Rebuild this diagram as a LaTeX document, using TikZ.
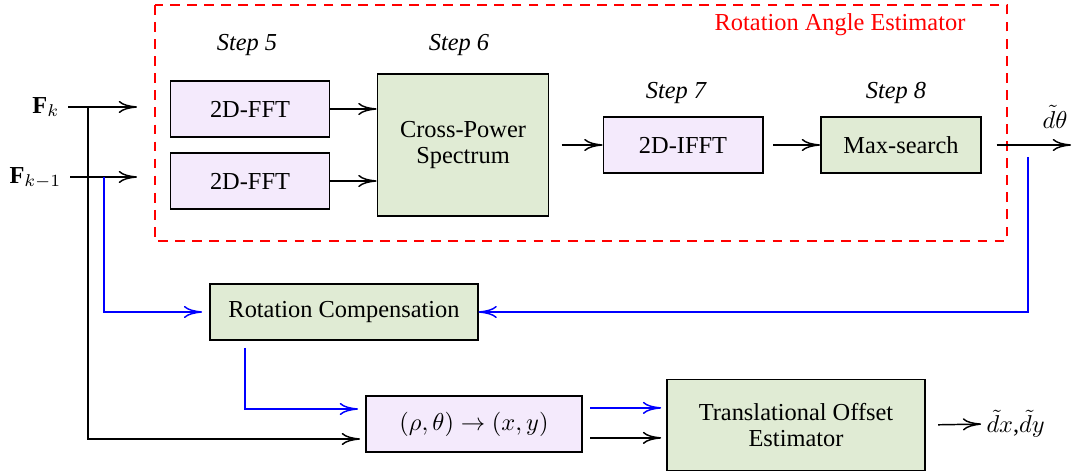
\documentclass[tikz,border=0pt]{standalone}
\usepackage{fontspec}
\setmainfont{Liberation Serif}
\usetikzlibrary{positioning,calc,arrows.meta}

\definecolor{fftcol}{HTML}{F4EAFC}
\definecolor{estcol}{HTML}{E0EBD4}

\tikzset{
    >={To[length=7.5pt, width=5pt]},
    block/.style={draw, thick, fill=fftcol, minimum width=65.2pt, minimum height=23pt, inner sep=2pt, align=center},
    estblock/.style={block, fill=estcol},
    steplabel/.style={font=\itshape},
    flow/.style={->, semithick},
    feedback/.style={->, semithick, blue},
}

\begin{document}
\begin{tikzpicture}[x=0.41pt, y=-0.41pt]

\useasboundingbox (0,0) rectangle (1072,476);

% rotation angle estimator
\draw [red, thick, dash pattern=on 4pt off 3pt] (155,5) rectangle (1007,241);
\node [red] (rae) at (840,25) {Rotation Angle Estimator};

\node [steplabel] (s5) at (247,45) {Step 5};
\node [steplabel] (s6) at (459,45) {Step 6};
\node [steplabel] (s7) at (676,93) {Step 7};
\node [steplabel] (s8) at (896,93) {Step 8};

\node [block] (fft1) at (250,109) {2D-FFT};
\node [block] (fft2) at (250,181) {2D-FFT};
\node [estblock, minimum width=70.1pt, minimum height=58.2pt] (cps) at (463,145) {Cross-Power\\[-1pt]Spectrum};
\node [block] (ifft) at (683,145) {2D-IFFT};
\node [estblock, minimum width=65.6pt] (maxs) at (901,145) {Max-search};

% compensation and translation
\node [estblock, minimum width=109.5pt, minimum height=22.6pt] (rotcomp) at (344,312) {Rotation Compensation};
\node [block, minimum width=88.6pt] (polar) at (474,424) {$(\rho,\theta)\rightarrow(x,y)$};
\node [estblock, minimum width=105.8pt, minimum height=37.3pt] (trans) at (796,425) {Translational Offset\\[-1pt]Estimator};

% inputs
\node [anchor=east] (fk) at (68,107) {$\mathbf{F}_k$};
\node [anchor=east] (fk1) at (70,178) {$\mathbf{F}_{k-1}$};
\coordinate (ink) at (137,107);
\coordinate (ink1) at (137,177);
\coordinate (jk) at (88,107);
\coordinate (jk1) at (104,177);

\draw [flow] (fk.east) -- (ink);
\draw [flow] (fk1.east |- ink1) -- (ink1);
\draw [flow] (jk) |- (360,439);
\draw [feedback, shorten >=3pt] (jk1) |- (rotcomp.west);

% inside the estimator
\draw [flow] (fft1.east) -- (fft1.east -| cps.west);
\draw [flow] (fft2.east) -- (fft2.east -| cps.west);
\draw [flow, shorten <=5pt] (cps.east) -- (ifft.west);
\draw [flow, shorten <=4pt] (ifft.east) -- (maxs.west);

% angle output
\node (dth) at (1055,117) {$\tilde{d}\theta$};
\coordinate (thout) at (1071,145);
\draw [flow, shorten <=6pt] (maxs.east) -- (thout);

\coordinate (tapth) at (1028,157);
\draw [feedback] (tapth) |- (rotcomp.east);

\coordinate (rcout) at (245,348);
\draw [feedback] (rcout) |- (358,409);

\draw [feedback, shorten <=3pt, shorten >=2pt] ([yshift=6.6pt]polar.east) -- ([yshift=6.6pt]polar.east -| trans.west);
\draw [flow, shorten <=3pt, shorten >=2pt] ([yshift=-5.7pt]polar.east) -- ([yshift=-5.7pt]polar.east -| trans.west);

% translation output
\node [anchor=west, inner sep=0pt] (dxy) at (986,424) {$\tilde{d}x$,$\tilde{d}y$};
\draw [flow, shorten <=5pt, shorten >=2pt] (trans.east) -- (dxy.west);

\end{tikzpicture}
\end{document}
